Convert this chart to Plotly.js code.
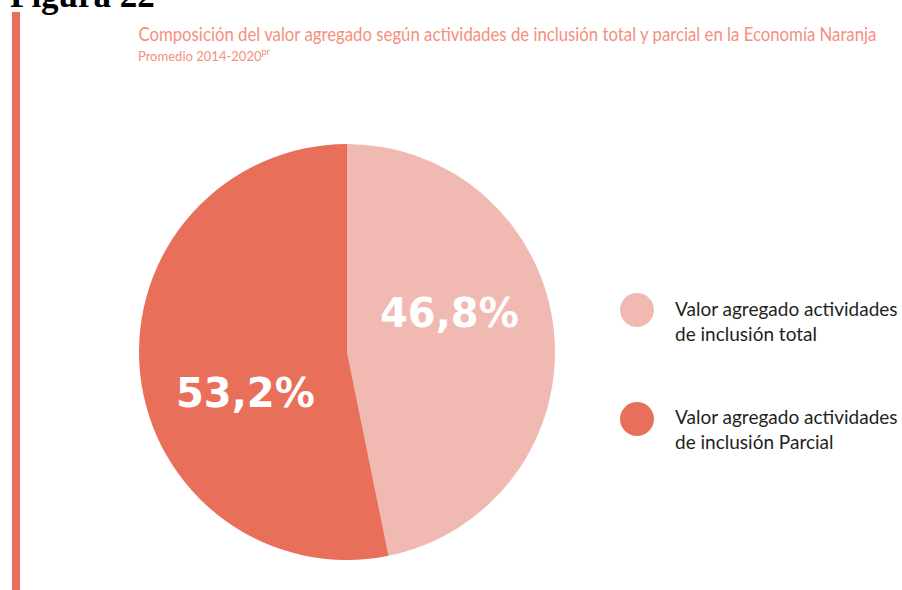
<!DOCTYPE html>
<html><head><meta charset="utf-8">
<script src="https://cdn.plot.ly/plotly-3.0.1.min.js"></script>
<style>html,body{margin:0;padding:0;background:#fff}#chart{width:902px;height:590px}</style>
</head><body><div id="chart"></div>
<script>
const categories = ["Valor agregado actividades<br>de inclusión total", "Valor agregado actividades<br>de inclusión Parcial"];
const values = [46.8, 53.2];
const colors = ["#F0BAB3", "#E8705A"];
const W = 902, H = 590;
const cx = 347, cy = 352, r = 208;

const pie = {
  type: 'pie', values: values, labels: categories,
  marker: {colors: colors, line: {width: 0}},
  sort: false, direction: 'clockwise', rotation: 0,
  textinfo: 'none',
  hoverinfo: 'label+percent', showlegend: false,
  domain: {x: [(cx - r) / W, (cx + r) / W], y: [1 - (cy + r) / H, 1 - (cy - r) / H]}
};

const total = values.reduce((a, b) => a + b, 0);
const pctText = values.map(v => (100 * v / total).toFixed(1).replace('.', ',') + '%');
const labelPos = [[449, 313], [246, 393]];

const shapes = [
  {type: 'rect', xref: 'paper', yref: 'paper', x0: 12 / W, x1: 20 / W, y0: 0, y1: 1 - 12 / H, fillcolor: '#E8705A', line: {width: 0}}
];
const annotations = [
  {xref: 'paper', yref: 'paper', x: 8 / W, y: 1 - 17 / H, xanchor: 'left', yanchor: 'bottom', showarrow: false,
   text: '<b>Figura 22</b>', font: {family: 'Liberation Serif, Times New Roman, serif', size: 35, color: '#000'}},
  {xref: 'paper', yref: 'paper', x: 507 / W, y: 1 - 33 / H, xanchor: 'center', yanchor: 'middle', showarrow: false,
   text: 'Composición del valor agregado según actividades de inclusión total y parcial en la Economía Naranja',
   font: {family: 'Lato, sans-serif', size: 20, color: '#F4907C'}},
  {xref: 'paper', yref: 'paper', x: 204 / W, y: 1 - 54 / H, xanchor: 'center', yanchor: 'middle', showarrow: false,
   text: 'Promedio 2014-2020<sup>pr</sup>',
   font: {family: 'Lato, sans-serif', size: 14, color: '#F4907C'}}
];
pctText.forEach((t, i) => {
  annotations.push({xref: 'paper', yref: 'paper', x: labelPos[i][0] / W, y: 1 - labelPos[i][1] / H,
    xanchor: 'center', yanchor: 'middle', showarrow: false, text: '<b>' + t + '</b>',
    font: {family: 'DejaVu Sans, sans-serif', size: 40, color: '#ffffff'}});
});
const legendY = [310, 419];
const legendTextY = [321, 429];
categories.forEach((c, i) => {
  const lx = 637, ly = legendY[i], lr = 17;
  shapes.push({type: 'circle', xref: 'paper', yref: 'paper', x0: (lx - lr) / W, x1: (lx + lr) / W,
    y0: 1 - (ly + lr) / H, y1: 1 - (ly - lr) / H, fillcolor: colors[i], line: {width: 0}});
  annotations.push({xref: 'paper', yref: 'paper', x: 673 / W, y: 1 - legendTextY[i] / H, xanchor: 'left', yanchor: 'middle',
    showarrow: false, align: 'left', text: c,
    font: {family: 'Lato, sans-serif', size: 19, color: '#231F20'}});
});

const layout = {
  width: W, height: H, margin: {l: 0, r: 0, t: 0, b: 0},
  paper_bgcolor: '#fff', plot_bgcolor: '#fff', separators: ',.',
  showlegend: false, shapes: shapes, annotations: annotations
};
Plotly.newPlot('chart', [pie], layout, {displayModeBar: false, staticPlot: true}).then(() => {
  // condensed look for the title and subtitle
  document.querySelectorAll('.annotation-text').forEach(el => {
    const t = el.textContent;
    if (t.startsWith('Composición')) {
      el.setAttribute('textLength', 738); el.setAttribute('lengthAdjust', 'spacingAndGlyphs');
    } else if (t.startsWith('Promedio')) {
      el.setAttribute('textLength', 132); el.setAttribute('lengthAdjust', 'spacingAndGlyphs');
    }
  });
});
</script></body></html>
